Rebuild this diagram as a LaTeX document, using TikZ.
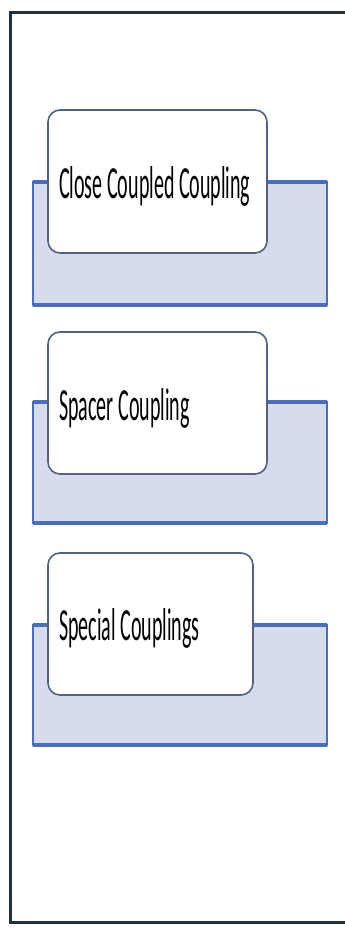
\documentclass[tikz,border=0pt]{standalone}
\usepackage{fontspec}
\setmainfont{Carlito}
\usepackage{graphicx}
\definecolor{frame}{HTML}{243040}
\definecolor{bandfill}{HTML}{D6DCEE}
\definecolor{bandline}{HTML}{4A6DBD}
\definecolor{boxline}{HTML}{566180}
\tikzset{
  band/.style={fill=bandfill, draw=bandline, line width=2pt},
  bandedge/.style={draw=bandline, line width=4pt},
  card/.style={fill=white, draw=boxline, line width=1.6pt, rounded corners=12pt},
  label/.style={anchor=base west, inner sep=0pt, text=black},
}
\newcommand{\lbl}[1]{\scalebox{0.435}[1]{\fontsize{46}{50}\selectfont #1}}
\begin{document}
\begin{tikzpicture}[x=1pt, y=-1pt]
\useasboundingbox (0,0) rectangle (345,930);
\fill[white] (0,0) rectangle (345,930);
% frame
\draw[frame, line width=3pt] (345,12) coordinate (ftr) -- (10,12) coordinate (ftl) -- (10,922) coordinate (fbl) -- (345,922) coordinate (fbr);
% group 1
\path[band] (33,182) rectangle (327,305);
\draw[bandedge] (33,182) coordinate (b1tl) -- (327,182) coordinate (b1tr);
\draw[bandedge] (33,305) coordinate (b1bl) -- (327,305) coordinate (b1br);
\draw[card] (48,110) rectangle (267,253);
\node[label] (t1) at (59,198) {\lbl{Close Coupled Coupling}};
% group 2
\path[band] (33,402) rectangle (327,523);
\draw[bandedge] (33,402) coordinate (b2tl) -- (327,402) coordinate (b2tr);
\draw[bandedge] (33,523) coordinate (b2bl) -- (327,523) coordinate (b2br);
\draw[card] (48,332) rectangle (267,474);
\node[label] (t2) at (59,420) {\lbl{Spacer Coupling}};
% group 3
\path[band] (33,625) rectangle (327,745);
\draw[bandedge] (33,625) coordinate (b3tl) -- (327,625) coordinate (b3tr);
\draw[bandedge] (33,745) coordinate (b3bl) -- (327,745) coordinate (b3br);
\draw[card] (48,553) rectangle (253,695);
\node[label] (t3) at (59,640) {\lbl{Special Couplings}};
\end{tikzpicture}
\end{document}
